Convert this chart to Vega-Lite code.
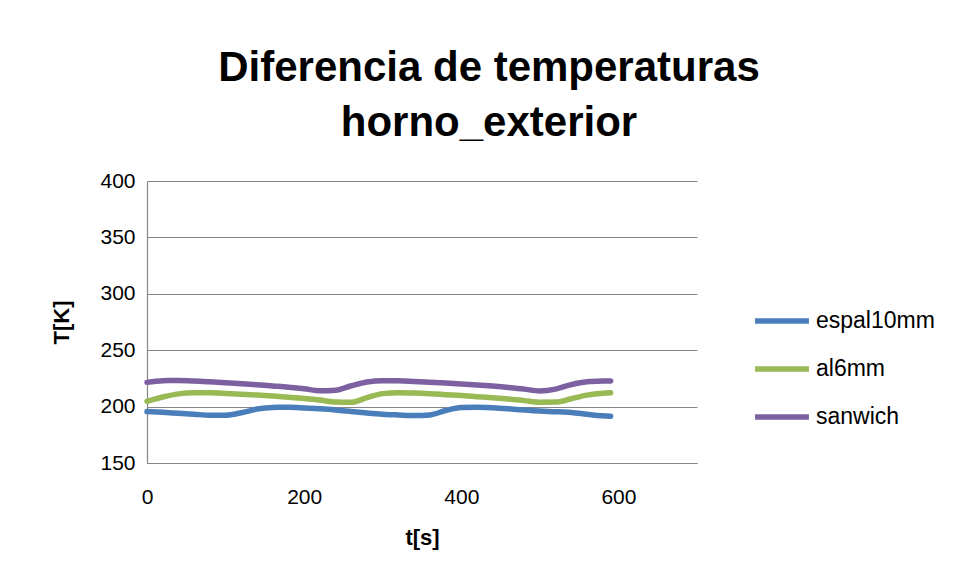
{
  "$schema": "https://vega.github.io/schema/vega-lite/v6.json",
  "autosize": "none",
  "width": 550,
  "height": 282,
  "padding": {"left": 147, "top": 181, "right": 259, "bottom": 115},
  "background": "white",
  "title": {
    "text": ["Diferencia de temperaturas", "horno_exterior"],
    "anchor": "middle",
    "frame": "group",
    "dx": 67,
    "offset": 25,
    "font": "Liberation Sans",
    "fontSize": 42,
    "fontWeight": "bold",
    "lineHeight": 55,
    "color": "#000000"
  },
  "data": {
    "values": [
      {"t": 0, "serie": "espal10mm", "T": 195.6},
      {"t": 20, "serie": "espal10mm", "T": 194.9},
      {"t": 40, "serie": "espal10mm", "T": 194.0},
      {"t": 60, "serie": "espal10mm", "T": 193.2},
      {"t": 80, "serie": "espal10mm", "T": 192.4},
      {"t": 100, "serie": "espal10mm", "T": 192.3},
      {"t": 120, "serie": "espal10mm", "T": 194.5},
      {"t": 140, "serie": "espal10mm", "T": 197.8},
      {"t": 160, "serie": "espal10mm", "T": 199.3},
      {"t": 180, "serie": "espal10mm", "T": 199.4},
      {"t": 200, "serie": "espal10mm", "T": 198.8},
      {"t": 220, "serie": "espal10mm", "T": 198.0},
      {"t": 240, "serie": "espal10mm", "T": 197.0},
      {"t": 260, "serie": "espal10mm", "T": 195.7},
      {"t": 280, "serie": "espal10mm", "T": 194.4},
      {"t": 300, "serie": "espal10mm", "T": 193.3},
      {"t": 320, "serie": "espal10mm", "T": 192.6},
      {"t": 340, "serie": "espal10mm", "T": 192.0},
      {"t": 360, "serie": "espal10mm", "T": 192.6},
      {"t": 380, "serie": "espal10mm", "T": 196.5},
      {"t": 400, "serie": "espal10mm", "T": 199.1},
      {"t": 420, "serie": "espal10mm", "T": 199.4},
      {"t": 440, "serie": "espal10mm", "T": 198.9},
      {"t": 460, "serie": "espal10mm", "T": 198.0},
      {"t": 480, "serie": "espal10mm", "T": 196.9},
      {"t": 500, "serie": "espal10mm", "T": 196.0},
      {"t": 520, "serie": "espal10mm", "T": 195.5},
      {"t": 540, "serie": "espal10mm", "T": 194.8},
      {"t": 560, "serie": "espal10mm", "T": 193.2},
      {"t": 580, "serie": "espal10mm", "T": 191.8},
      {"t": 590, "serie": "espal10mm", "T": 191.5},

      {"t": 0, "serie": "al6mm", "T": 204.7},
      {"t": 20, "serie": "al6mm", "T": 208.5},
      {"t": 40, "serie": "al6mm", "T": 211.3},
      {"t": 60, "serie": "al6mm", "T": 212.2},
      {"t": 80, "serie": "al6mm", "T": 212.2},
      {"t": 100, "serie": "al6mm", "T": 211.7},
      {"t": 120, "serie": "al6mm", "T": 211.0},
      {"t": 140, "serie": "al6mm", "T": 210.2},
      {"t": 160, "serie": "al6mm", "T": 209.3},
      {"t": 180, "serie": "al6mm", "T": 208.3},
      {"t": 200, "serie": "al6mm", "T": 207.2},
      {"t": 220, "serie": "al6mm", "T": 205.8},
      {"t": 240, "serie": "al6mm", "T": 204.0},
      {"t": 260, "serie": "al6mm", "T": 203.8},
      {"t": 280, "serie": "al6mm", "T": 208.0},
      {"t": 300, "serie": "al6mm", "T": 211.5},
      {"t": 320, "serie": "al6mm", "T": 212.3},
      {"t": 340, "serie": "al6mm", "T": 212.0},
      {"t": 360, "serie": "al6mm", "T": 211.4},
      {"t": 380, "serie": "al6mm", "T": 210.6},
      {"t": 400, "serie": "al6mm", "T": 209.8},
      {"t": 420, "serie": "al6mm", "T": 208.8},
      {"t": 440, "serie": "al6mm", "T": 207.8},
      {"t": 460, "serie": "al6mm", "T": 206.7},
      {"t": 480, "serie": "al6mm", "T": 205.3},
      {"t": 500, "serie": "al6mm", "T": 203.9},
      {"t": 520, "serie": "al6mm", "T": 204.0},
      {"t": 540, "serie": "al6mm", "T": 207.0},
      {"t": 560, "serie": "al6mm", "T": 210.2},
      {"t": 580, "serie": "al6mm", "T": 211.9},
      {"t": 590, "serie": "al6mm", "T": 212.2},

      {"t": 0, "serie": "sanwich", "T": 221.5},
      {"t": 20, "serie": "sanwich", "T": 223.0},
      {"t": 40, "serie": "sanwich", "T": 223.1},
      {"t": 60, "serie": "sanwich", "T": 222.7},
      {"t": 80, "serie": "sanwich", "T": 222.0},
      {"t": 100, "serie": "sanwich", "T": 221.2},
      {"t": 120, "serie": "sanwich", "T": 220.3},
      {"t": 140, "serie": "sanwich", "T": 219.4},
      {"t": 160, "serie": "sanwich", "T": 218.3},
      {"t": 180, "serie": "sanwich", "T": 217.2},
      {"t": 200, "serie": "sanwich", "T": 215.8},
      {"t": 220, "serie": "sanwich", "T": 214.0},
      {"t": 240, "serie": "sanwich", "T": 214.5},
      {"t": 260, "serie": "sanwich", "T": 218.5},
      {"t": 280, "serie": "sanwich", "T": 221.8},
      {"t": 300, "serie": "sanwich", "T": 223.0},
      {"t": 320, "serie": "sanwich", "T": 222.9},
      {"t": 340, "serie": "sanwich", "T": 222.3},
      {"t": 360, "serie": "sanwich", "T": 221.6},
      {"t": 380, "serie": "sanwich", "T": 220.9},
      {"t": 400, "serie": "sanwich", "T": 220.1},
      {"t": 420, "serie": "sanwich", "T": 219.2},
      {"t": 440, "serie": "sanwich", "T": 218.2},
      {"t": 460, "serie": "sanwich", "T": 217.0},
      {"t": 480, "serie": "sanwich", "T": 215.5},
      {"t": 500, "serie": "sanwich", "T": 213.9},
      {"t": 520, "serie": "sanwich", "T": 215.5},
      {"t": 540, "serie": "sanwich", "T": 219.5},
      {"t": 560, "serie": "sanwich", "T": 222.0},
      {"t": 580, "serie": "sanwich", "T": 222.7},
      {"t": 590, "serie": "sanwich", "T": 222.8}
    ]
  },
  "mark": {
    "type": "line",
    "interpolate": "monotone",
    "strokeWidth": 5.5,
    "strokeCap": "round",
    "strokeJoin": "round"
  },
  "encoding": {
    "x": {
      "field": "t",
      "type": "quantitative",
      "scale": {"domain": [0, 700], "nice": false},
      "axis": {
        "title": "t[s]",
        "values": [0, 200, 400, 600],
        "grid": false,
        "ticks": false,
        "labelPadding": 23,
        "titlePadding": 20
      }
    },
    "y": {
      "field": "T",
      "type": "quantitative",
      "scale": {"domain": [150, 400], "nice": false, "zero": false},
      "axis": {
        "title": "T[K]",
        "values": [150, 200, 250, 300, 350, 400],
        "grid": true,
        "ticks": false,
        "labelPadding": 12,
        "titlePadding": 26
      }
    },
    "color": {
      "field": "serie",
      "type": "nominal",
      "sort": ["espal10mm", "al6mm", "sanwich"],
      "scale": {
        "domain": ["espal10mm", "al6mm", "sanwich"],
        "range": ["#4A7EBB", "#98B954", "#7D60A0"]
      },
      "legend": {
        "title": null,
        "orient": "none",
        "legendX": 605,
        "legendY": 110,
        "symbolType": "stroke",
        "symbolSize": 2900,
        "symbolStrokeWidth": 5.5,
        "labelFont": "Liberation Sans",
        "labelFontSize": 23,
        "labelColor": "#000000",
        "labelOffset": 4,
        "rowPadding": 6
      }
    }
  },
  "config": {
    "view": {"stroke": null},
    "axis": {
      "labelFont": "Liberation Sans",
      "labelFontSize": 21,
      "labelColor": "#000000",
      "labelFlush": false,
      "titleFont": "Liberation Sans",
      "titleFontSize": 22,
      "titleFontWeight": "bold",
      "titleColor": "#000000",
      "domainColor": "#868686",
      "domainWidth": 1.2,
      "gridColor": "#868686",
      "gridWidth": 1.2,
      "gridOpacity": 1
    }
  }
}
